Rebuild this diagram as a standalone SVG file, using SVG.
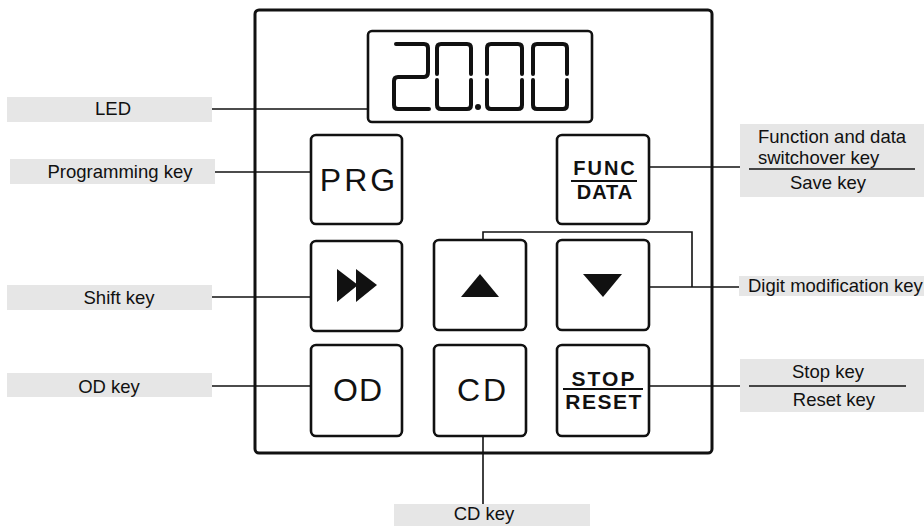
<svg xmlns="http://www.w3.org/2000/svg" width="924" height="526" viewBox="0 0 924 526">
<style>
.lbl{fill:#e6e6e6;stroke:none}
.lt{font-family:"Liberation Sans",Arial,sans-serif;font-size:18.5px;fill:#111}
.key{fill:#fff;stroke:#111;stroke-width:2.6}
.kt{font-family:"Liberation Sans",Arial,sans-serif;fill:#111}
.con{stroke:#111;stroke-width:1.6;fill:none}
.seg{stroke:#111;stroke-width:4;fill:none;stroke-linecap:round;stroke-linejoin:round}
</style>
<rect width="924" height="526" fill="#fff"/>
<g id="panel">
<rect x="255" y="10" width="457" height="443" rx="4" fill="#fff" stroke="#111" stroke-width="3"/>
</g>
<g id="connectors">
<line class="con" x1="211" y1="109" x2="368" y2="109"/>
<line class="con" x1="215" y1="172" x2="311" y2="172"/>
<line class="con" x1="211" y1="297" x2="311" y2="297"/>
<line class="con" x1="211" y1="386" x2="311" y2="386"/>
<line class="con" x1="483" y1="436" x2="483" y2="504"/>
<line class="con" x1="649" y1="167" x2="740" y2="167"/>
<line class="con" x1="649" y1="287" x2="739" y2="287"/>
<polyline class="con" points="483,240 483,232 692,232 692,287"/>
<line class="con" x1="649" y1="386" x2="740" y2="386"/>
</g>
<g id="led">
<rect x="368" y="31" width="224" height="91" rx="4" fill="#fff" stroke="#111" stroke-width="2.6"/>
<path class="seg" d="M396,44 H424 Q428,44 428,48 V72 Q428,77 424,77 H398 Q394,77 394,81 V105 Q394,109 398,109 H429"/>
<path class="seg" d="M437,74 V48 Q437,44 441,44 H467 Q471,44 471,48 V74"/>
<path class="seg" d="M437,80 V105 Q437,109 441,109 H467 Q471,109 471,105 V80"/>
<circle cx="478" cy="107" r="3" fill="#111"/>
<path class="seg" d="M487,74 V48 Q487,44 491,44 H518 Q522,44 522,48 V74"/>
<path class="seg" d="M487,80 V105 Q487,109 491,109 H518 Q522,109 522,105 V80"/>
<path class="seg" d="M533,74 V48 Q533,44 537,44 H563 Q567,44 567,48 V74"/>
<path class="seg" d="M533,80 V105 Q533,109 537,109 H563 Q567,109 567,105 V80"/>
</g>
<g id="key-prg">
<rect class="key" x="311" y="135" width="91" height="89" rx="5"/>
<text class="kt" x="359" y="191" font-size="32" letter-spacing="3" text-anchor="middle">PRG</text>
</g>
<g id="key-func">
<rect class="key" x="557" y="135" width="92" height="89" rx="5"/>
<text class="kt" x="605" y="175" font-size="20" font-weight="bold" letter-spacing="2" text-anchor="middle">FUNC</text>
<line x1="571" y1="181" x2="637" y2="181" stroke="#111" stroke-width="2"/>
<text class="kt" x="605" y="199" font-size="20" font-weight="bold" letter-spacing="1" text-anchor="middle">DATA</text>
</g>
<g id="key-shift">
<rect class="key" x="311" y="241" width="91" height="90" rx="5"/>
<polygon points="337,269 358,285 337,302" fill="#111"/>
<polygon points="356,269 377,285 356,302" fill="#111"/>
</g>
<g id="key-up">
<rect class="key" x="434" y="240" width="92" height="90" rx="5"/>
<polygon points="461,297 480,274 499,297" fill="#111"/>
</g>
<g id="key-down">
<rect class="key" x="557" y="240" width="92" height="90" rx="5"/>
<polygon points="583,274 622,274 603,297" fill="#111"/>
</g>
<g id="key-od">
<rect class="key" x="311" y="345" width="91" height="91" rx="5"/>
<text class="kt" x="358" y="401" font-size="32" letter-spacing="1" text-anchor="middle">OD</text>
</g>
<g id="key-cd">
<rect class="key" x="434" y="345" width="92" height="91" rx="5"/>
<text class="kt" x="483" y="401" font-size="32" letter-spacing="3" text-anchor="middle">CD</text>
</g>
<g id="key-stop">
<rect class="key" x="557" y="345" width="92" height="91" rx="5"/>
<text class="kt" x="604" y="386" font-size="21" font-weight="bold" letter-spacing="2" text-anchor="middle">STOP</text>
<line x1="563" y1="389" x2="643" y2="389" stroke="#111" stroke-width="2"/>
<text class="kt" x="604" y="409" font-size="21" font-weight="bold" letter-spacing="1.5" text-anchor="middle">RESET</text>
</g>
<g id="label-led">
<rect class="lbl" x="7" y="97" width="205" height="25"/>
<text class="lt" x="113" y="115" text-anchor="middle">LED</text>
</g>
<g id="label-prg">
<rect class="lbl" x="10" y="159" width="205" height="25"/>
<text class="lt" x="120" y="178" text-anchor="middle">Programming key</text>
</g>
<g id="label-shift">
<rect class="lbl" x="7" y="285" width="205" height="25"/>
<text class="lt" x="119" y="304" text-anchor="middle">Shift key</text>
</g>
<g id="label-od">
<rect class="lbl" x="7" y="373" width="205" height="24"/>
<text class="lt" x="109" y="393" text-anchor="middle">OD key</text>
</g>
<g id="label-cd">
<rect class="lbl" x="394" y="504" width="196" height="22"/>
<text class="lt" x="484" y="520" text-anchor="middle">CD key</text>
</g>
<g id="label-func">
<rect class="lbl" x="740" y="124" width="184" height="73"/>
<text class="lt" x="758" y="143">Function and data</text>
<text class="lt" x="758" y="164">switchover key</text>
<line x1="749" y1="169" x2="915" y2="169" stroke="#111" stroke-width="1.4"/>
<text class="lt" x="828" y="189" text-anchor="middle">Save key</text>
</g>
<g id="label-digit">
<rect class="lbl" x="739" y="276" width="185" height="20"/>
<text class="lt" x="748" y="292">Digit modification key</text>
</g>
<g id="label-stop">
<rect class="lbl" x="740" y="359" width="184" height="53"/>
<text class="lt" x="828" y="378" text-anchor="middle">Stop key</text>
<line x1="749" y1="386" x2="906" y2="386" stroke="#111" stroke-width="1.4"/>
<text class="lt" x="834" y="406" text-anchor="middle">Reset key</text>
</g>
</svg>
